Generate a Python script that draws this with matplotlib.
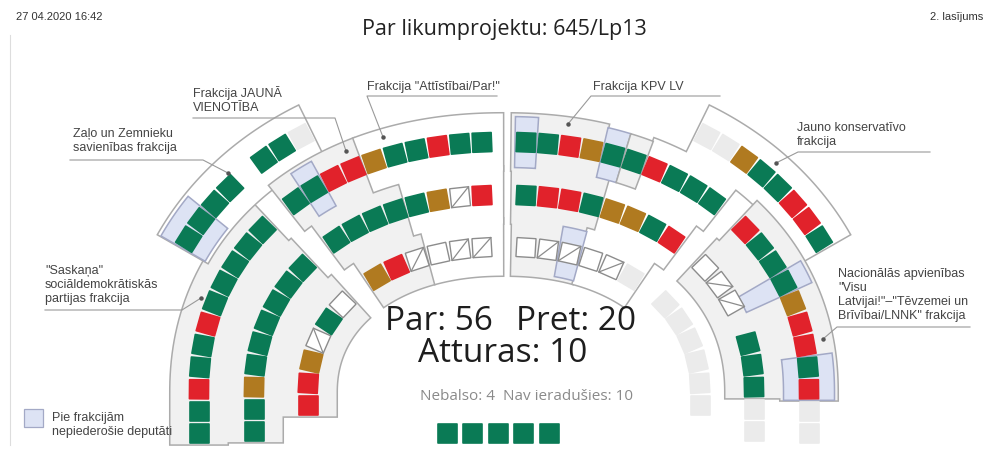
import numpy as np
import matplotlib.pyplot as plt
from matplotlib.patches import Polygon

plt.rcParams['font.family'] = ['Liberation Sans', 'DejaVu Sans']

# balsojuma rezultāti
vote_labels = ["Par", "Pret", "Atturas", "Nebalso", "Nav ieradušies"]
vote_counts = [56, 20, 10, 4, 10]

# sēdvietas pa frakcijām: {rinda: (pirmā vieta, kodi)}
# G par, R pret, B atturas, W nebalso, S nebalso (svītra), L nav, . tukša vieta
saskana = {1: (-22, "GGRGGRGGGGG"), 2: (-18, "GGBGGGGGG"), 3: (-13, "RRBSGW")}
zzs = {0: (-16, "GGGG.GGL")}
jv = {1: (-10, "GGRR"), 2: (-8, "GGGG"), 3: (-6, "BRS")}
attistibai = {1: (-6, "BGGRGG"), 2: (-4, "GBSR"), 3: (-3, "WSS")}
kpv = {1: (1, "GGRBGG"), 2: (1, "GRRG"), 3: (1, "WSS")}
jkp = {0: (9, "LLBGGRRG"), 1: (7, "RGGG"), 2: (5, "BBGR"), 3: (4, "WSL")}
na = {1: (12, "RGGGBRRGR"), 2: (10, "WSS.GGG")}
outside = {1: (21, "LL"), 2: (17, "LL"), 3: (8, "LLLLLL")}
presidium = "GGGGG"

colors = {"G": "#0a7a55", "R": "#e1222b", "B": "#b07a20", "L": "#ebebeb",
          "W": "white", "S": "white"}

# geometrija
CX, CY = 504, 393
RX = [357, 305, 250, 196]
RY = [302, 251, 198, 146]
GAP = [12, 0, 0, 0]
EXP = 2.15
PITCH = 22
HALF = 28.5
LEG = 70
SEAT = 19

fig = plt.figure(figsize=(9.87, 4.58), dpi=100)
ax = fig.add_axes([0, 0, 1, 1])
ax.set_xlim(0, 987)
ax.set_ylim(458, 0)
ax.axis('off')

curves = {}
for k in range(4):
    t = np.linspace(0, np.pi, 4001)
    c, s = np.cos(t), np.sin(t)
    e = 2 / EXP
    xa = CX - RX[k] * np.sign(c) * np.abs(c) ** e
    ya = CY - RY[k] * np.abs(s) ** e
    legl = np.linspace(CY + LEG, CY, 61)[:-1]
    legr = np.linspace(CY, CY + LEG, 61)[1:]
    x = np.concatenate([np.full(60, CX - RX[k]), xa, np.full(60, CX + RX[k])])
    y = np.concatenate([legl, ya, legr])
    sl = np.concatenate([[0], np.cumsum(np.hypot(np.diff(x), np.diff(y)))])
    curves[k] = (sl, x, y)


def frame(k, slot):
    sl, x, y = curves[k]
    sv = sl[-1] / 2 + slot * PITCH + np.sign(slot) * GAP[k]
    p = np.array([np.interp(sv, sl, x), np.interp(sv, sl, y)])
    q1 = np.array([np.interp(sv - 1, sl, x), np.interp(sv - 1, sl, y)])
    q2 = np.array([np.interp(sv + 1, sl, x), np.interp(sv + 1, sl, y)])
    tv = (q2 - q1) / np.linalg.norm(q2 - q1)
    nv = np.array([tv[1], -tv[0]])
    return p, tv, nv


def band(k, a, b, inner=HALF, outer=HALF):
    outs, ins = [], []
    for sl in np.linspace(a, b, 40):
        p, tv, nv = frame(k, sl)
        outs.append(p + outer * nv)
        ins.append(p - inner * nv)
    return np.array(outs + ins[::-1])


def draw_region(spans, face, edge, z):
    polys = [band(*sp) for sp in spans]
    for pg in polys:
        ax.add_patch(Polygon(pg, closed=True, facecolor=face, edgecolor=edge,
                             lw=2.2, zorder=z))
    for pg in polys:
        ax.add_patch(Polygon(pg, closed=True, facecolor=face, edgecolor='none',
                             lw=0, zorder=z + 0.1))


def draw_seat(p, tv, nv, code):
    h = SEAT / 2
    corners = [p - h * tv - h * nv, p + h * tv - h * nv,
               p + h * tv + h * nv, p - h * tv + h * nv]
    if code in "WS":
        ax.add_patch(Polygon(corners, closed=True, facecolor='white',
                             edgecolor='#8c8c8c', lw=1.0, zorder=5))
        if code == "S":
            a, b = corners[0], corners[2]
            ax.plot([a[0], b[0]], [a[1], b[1]], color='#8c8c8c', lw=0.9, zorder=6)
    else:
        col = colors[code]
        ax.add_patch(Polygon(corners, closed=True, facecolor=col, edgecolor=col,
                             lw=1.2, joinstyle='round', zorder=5))


gray_f, gray_e = "#f1f1f1", "#ababab"
white_f = "white"
blue_f, blue_e = "#dde3f4", "#a3a9c6"

regions = [
    (gray_f, [(1, -22.5, -11.5), (2, -18.5, -9.5), (3, -13.5, -7.5)]),
    (white_f, [(0, -16.5, -8.5)]),
    (gray_f, [(1, -10.5, -6.5), (2, -8.5, -4.5), (3, -6.5, -3.5)]),
    (white_f, [(1, -6.5, -0.05), (2, -4.5, -0.05), (3, -3.5, -0.05)]),
    (gray_f, [(1, 0.35, 4.5), (2, 0.35, 4.5), (3, 0.35, 3.5)]),
    (white_f, [(0, 8.5, 16.5), (1, 6.5, 10.5), (2, 4.5, 8.5), (3, 3.5, 6.5)]),
    (gray_f, [(1, 11.5, 20.5), (2, 9.5, 16.5)]),
]
for i, (face, spans) in enumerate(regions):
    draw_region(spans, face, gray_e, 1 + i * 0.3)

blue_boxes = [(0, -16.5, -14.5), (1, -9.5, -8.5), (1, 0.5, 1.5), (1, 4.5, 5.5),
              (3, 2.5, 3.5), (1, 18.5, 20.5)]
for k, a, b in blue_boxes:
    ax.add_patch(Polygon(band(k, a, b, HALF - 3, HALF - 3), closed=True,
                         facecolor=blue_f, edgecolor=blue_e, lw=1.1, zorder=4))
ax.add_patch(Polygon(band(1, 14.5, 15.5, inner=HALF + 18, outer=HALF - 3),
                     closed=True, facecolor=blue_f, edgecolor=blue_e, lw=1.1, zorder=4))
ax.add_patch(Polygon(band(1, 5.5, 6.5, HALF - 3, HALF - 3), closed=True,
                     facecolor=gray_f, edgecolor=gray_e, lw=1.1, zorder=4))

for group in [saskana, zzs, jv, attistibai, kpv, jkp, na, outside]:
    for k, (first, codes) in group.items():
        for i, code in enumerate(codes):
            if code == ".":
                continue
            p, tv, nv = frame(k, first + i)
            draw_seat(p, tv, nv, code)

for i, code in enumerate(presidium):
    p = np.array([CX - 6 + (i - 2) * 25.5, 433.0])
    draw_seat(p, np.array([1.0, 0.0]), np.array([0.0, -1.0]), code)

# teksti
tc = '#333333'
ax.text(16, 17, "27 04.2020 16:42", fontsize=8, color=tc, va='center')
ax.text(983, 17, "2. lasījums", fontsize=8, color=tc, va='center', ha='right')
ax.text(CX, 30, "Par likumprojektu: 645/Lp13", fontsize=15.5, color='#222222',
        ha='center', va='center', family=['Open Sans', 'DejaVu Sans'])
big = dict(fontsize=24, color='#1e1e1e', va='center', family=['Open Sans', 'DejaVu Sans'])
ax.text(385, 321, f"{vote_labels[0]}: {vote_counts[0]}", ha='left', **big)
ax.text(516, 321, f"{vote_labels[1]}: {vote_counts[1]}", ha='left', **big)
ax.text(503, 354, f"{vote_labels[2]}: {vote_counts[2]}", ha='center', **big)
small = dict(fontsize=11, color='#8a8a8a', va='center', family=['Open Sans', 'DejaVu Sans'])
ax.text(495, 396, f"{vote_labels[3]}: {vote_counts[3]}", ha='right', **small)
ax.text(503, 396, f"{vote_labels[4]}: {vote_counts[4]}", ha='left', **small)

lab = dict(fontsize=9, color='#444444', va='center', linespacing=1.2)
lc = dict(color='#9a9a9a', lw=0.8, zorder=7)


def leader(pts, dot):
    xs = [q[0] for q in pts] + [dot[0]]
    ys = [q[1] for q in pts] + [dot[1]]
    ax.plot(xs, ys, **lc)
    ax.plot(dot[0], dot[1], 'o', ms=2.2, color='#555555', zorder=8)


ax.text(73, 141, "Zaļo un Zemnieku\nsavienības frakcija", **lab)
leader([(70, 160), (203, 160)], (228, 173))
ax.text(193, 100, "Frakcija JAUNĀ\nVIENOTĪBA", **lab)
leader([(193, 118), (335, 118)], (346, 151))
ax.text(367, 87, "Frakcija \"Attīstībai/Par!\"", **lab)
leader([(497, 96), (367, 96)], (383, 137))
ax.text(593, 87, "Frakcija KPV LV", **lab)
leader([(720, 96), (591, 96)], (568, 124))
ax.text(797, 135, "Jauno konservatīvo\nfrakcija", **lab)
leader([(930, 152), (798, 152)], (776, 163))
ax.text(45, 285, "\"Saskaņa\"\nsociāldemokrātiskās\npartijas frakcija", **lab)
leader([(45, 310), (182, 310)], (201, 298))
ax.text(838, 295, "Nacionālās apvienības\n\"Visu\nLatvijai!\"–\"Tēvzemei un\nBrīvībai/LNNK\" frakcija", **lab)
leader([(970, 327), (837, 327)], (823, 339))

ax.add_patch(Polygon([(24, 409), (43, 409), (43, 427), (24, 427)], closed=True,
                     facecolor=blue_f, edgecolor=blue_e, lw=0.9))
ax.text(52, 425, "Pie frakcijām\nnepiederošie deputāti", **lab)
ax.plot([10, 10], [35, 445], color='#dddddd', lw=0.8)

fig.savefig("out.png", dpi=100)
